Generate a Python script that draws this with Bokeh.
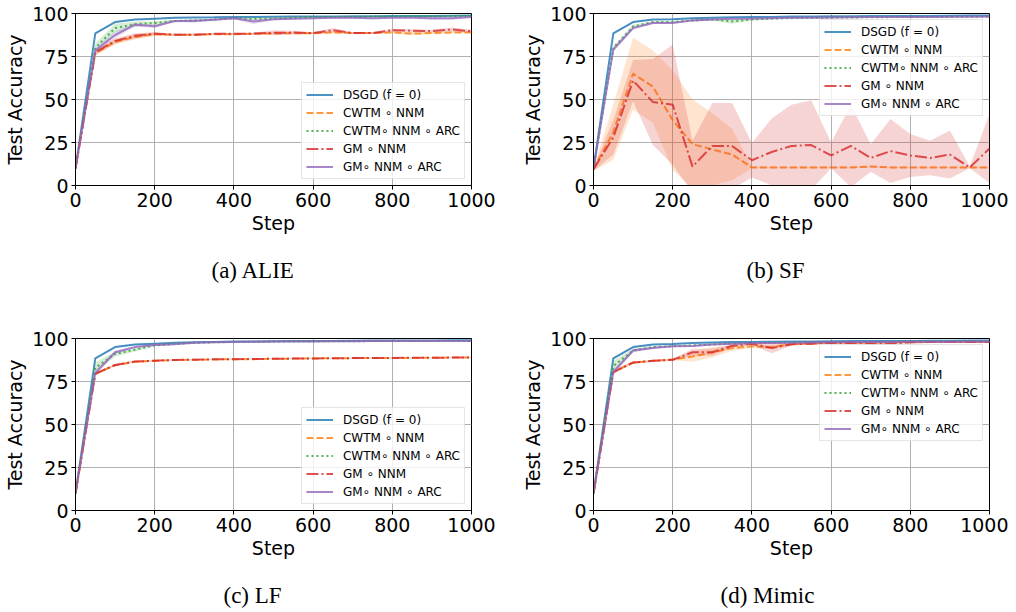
from bokeh.plotting import figure
from bokeh.layouts import column, row
from bokeh.models import Legend, LegendItem, Title, FixedTicker, Range1d
from bokeh.embed import file_html
from bokeh.resources import INLINE

# ---------------- data ----------------
STEPS = [0, 50, 100, 150, 200, 250, 300, 350, 400, 450, 500,
         550, 600, 650, 700, 750, 800, 850, 900, 950, 1000]
X_TICKS = [0, 200, 400, 600, 800, 1000]
Y_TICKS = [0, 25, 50, 75, 100]

LABELS = ["DSGD (f = 0)", "CWTM \u2218 NNM", "CWTM\u2218 NNM \u2218 ARC",
          "GM \u2218 NNM", "GM\u2218 NNM \u2218 ARC"]
COLORS = ["#1f77b4", "#ff7f0e", "#2ca02c", "#d62728", "#9467bd"]
DASHES = ["solid", "7 3", "2 3", "12 3 2 3", "solid"]
CAPTIONS = ["(a) ALIE", "(b) SF", "(c) LF", "(d) Mimic"]

# (a) ALIE
ALIE_DSGD = [10, 88.5, 95, 96.5, 97, 97.5, 97.7, 97.8, 98, 98, 98.1, 98.2, 98.3, 98.3, 98.4, 98.4, 98.5, 98.5, 98.6, 98.7, 98.8]
ALIE_CWTM = [10, 77, 83.5, 86.4, 88, 87.6, 87.6, 88, 88, 88.2, 88.4, 88.5, 88.5, 89, 88.6, 88.6, 89, 88.3, 88.6, 89, 89]
ALIE_CWTM_ARC = [10, 80, 91.5, 93.8, 94.5, 95.6, 96, 96.5, 97.2, 96.8, 97, 97.5, 98, 98, 98, 98.2, 98.3, 98.4, 98.4, 98.5, 98.6]
ALIE_GM = [10, 77.5, 84, 87, 88.3, 87.7, 87.7, 88.2, 88.2, 88.3, 88.8, 88.9, 88.6, 90.3, 88.6, 88.6, 90.3, 90, 89.8, 90.7, 89.7]
ALIE_GM_ARC = [10, 78.5, 87.5, 93.5, 92.6, 95.6, 95.6, 96.4, 97.2, 95.3, 96.6, 97, 97.2, 97.5, 97.5, 97.3, 97.6, 97.6, 97.2, 97.2, 98]
ALIE_DSGD_STD = [0.3, 0.5, 0.4, 0.3, 0.3, 0.2, 0.2, 0.2, 0.2, 0.2, 0.2, 0.2, 0.2, 0.2, 0.2, 0.2, 0.2, 0.2, 0.2, 0.2, 0.2]
ALIE_CWTM_STD = [0.5, 1.5, 1.5, 1.5, 1, 0.5, 0.5, 0.5, 0.5, 0.5, 0.5, 0.5, 0.5, 0.5, 0.5, 0.5, 0.5, 1, 0.5, 0.5, 0.5]
ALIE_CWTM_ARC_STD = [0.5, 2.5, 2.5, 1.5, 1, 0.8, 0.5, 0.5, 0.5, 0.5, 0.5, 0.5, 0.3, 0.3, 0.3, 0.3, 0.3, 0.3, 0.3, 0.3, 0.3]
ALIE_GM_STD = [0.5, 1.5, 1.5, 1.5, 1, 0.5, 0.5, 0.5, 0.5, 0.5, 1.5, 1, 0.5, 1.2, 0.5, 0.5, 0.8, 0.8, 0.8, 1.2, 0.8]
ALIE_GM_ARC_STD = [0.5, 1.5, 2, 1, 1, 0.5, 1, 0.5, 0.5, 1.5, 0.5, 0.5, 0.5, 0.5, 0.5, 0.8, 0.5, 0.5, 1, 1, 0.5]

# (b) SF
SF_DSGD = [10, 88.5, 95, 96.5, 96.7, 97.3, 97.6, 97.8, 98, 98, 98.2, 98.3, 98.4, 98.4, 98.5, 98.5, 98.6, 98.6, 98.7, 98.8, 98.8]
SF_CWTM = [9.5, 31, 65, 57.5, 38, 24, 21, 18, 10.5, 10.5, 10.5, 10.5, 10.5, 10.5, 11, 10.5, 10.5, 10.5, 10.5, 10.5, 10.5]
SF_CWTM_ARC = [10, 80, 92.5, 95, 95, 96, 96.5, 95.5, 96.5, 97, 97.3, 97.5, 97.6, 97.7, 97.8, 97.9, 98, 98, 98, 98.1, 98.1]
SF_GM = [9.5, 28, 61, 48.5, 47, 11, 23, 23, 14.7, 19.5, 23, 23.5, 17.5, 23, 16, 20, 17.5, 16, 18, 10.5, 21.5]
SF_GM_ARC = [10, 79, 91.5, 94.5, 94.5, 96, 96.5, 97, 97, 97.3, 97.5, 97.6, 97.7, 97.8, 97.9, 98, 98, 98, 98.1, 98.1, 98.2]
SF_DSGD_STD = [0.3, 0.5, 0.4, 0.3, 0.3, 0.2, 0.2, 0.2, 0.2, 0.2, 0.2, 0.2, 0.2, 0.2, 0.2, 0.2, 0.2, 0.2, 0.2, 0.2, 0.2]
SF_CWTM_STD = [1, 16, 21, 21, 29, 26, 21, 15, 0.5, 0.5, 0.5, 0.5, 0.5, 0.5, 0.5, 0.5, 0.5, 0.5, 0.5, 0.5, 0.5]
SF_CWTM_ARC_STD = [0.5, 1, 1, 0.5, 0.5, 0.5, 0.5, 1.5, 0.5, 0.3, 0.3, 0.3, 0.3, 0.3, 0.3, 0.3, 0.3, 0.3, 0.3, 0.3, 0.3]
SF_GM_STD = [1, 10, 12, 25, 35, 15, 25, 25, 10, 19.5, 24, 26, 7.5, 24, 8, 18.6, 12.5, 10, 14, 0.5, 20]
SF_GM_ARC_STD = [0.5, 1.5, 1, 0.5, 0.5, 0.5, 0.5, 0.3, 0.3, 0.3, 0.3, 0.3, 0.3, 0.3, 0.3, 0.3, 0.3, 0.3, 0.3, 0.3, 0.3]

# (c) LF
LF_DSGD = [10, 88.5, 95, 96.5, 97, 97.5, 97.8, 98, 98.2, 98.3, 98.4, 98.5, 98.6, 98.6, 98.7, 98.8, 98.8, 98.9, 98.9, 99, 99]
LF_CWTM = [10, 79.5, 84.5, 86.5, 87, 87.5, 87.6, 87.8, 88, 88, 88.2, 88.3, 88.4, 88.5, 88.6, 88.6, 88.7, 88.7, 88.8, 88.9, 89]
LF_CWTM_ARC = [10, 83, 91, 93.5, 96, 96.8, 97.5, 97.8, 98, 98.1, 98.2, 98.3, 98.3, 98.4, 98.4, 98.5, 98.5, 98.5, 98.6, 98.6, 98.6]
LF_GM = [10, 79.5, 84.6, 86.6, 87.1, 87.5, 87.7, 87.9, 88, 88.1, 88.2, 88.3, 88.4, 88.5, 88.6, 88.6, 88.7, 88.8, 88.8, 88.9, 89]
LF_GM_ARC = [10, 80, 92, 95, 96.2, 96.6, 97.5, 97.8, 98, 98.1, 98.2, 98.3, 98.3, 98.4, 98.4, 98.5, 98.5, 98.5, 98.6, 98.6, 98.6]
LF_DSGD_STD = [0.3, 0.5, 0.4, 0.3, 0.3, 0.2, 0.2, 0.2, 0.2, 0.2, 0.2, 0.2, 0.2, 0.2, 0.2, 0.2, 0.2, 0.2, 0.2, 0.2, 0.2]
LF_CWTM_STD = [0.5, 0.8, 0.6, 0.4, 0.3, 0.3, 0.3, 0.2, 0.2, 0.2, 0.2, 0.2, 0.2, 0.2, 0.2, 0.2, 0.2, 0.2, 0.2, 0.2, 0.2]
LF_CWTM_ARC_STD = [0.5, 3, 1.5, 1, 0.5, 0.4, 0.3, 0.2, 0.2, 0.2, 0.2, 0.2, 0.2, 0.2, 0.2, 0.2, 0.2, 0.2, 0.2, 0.2, 0.2]
LF_GM_STD = [0.5, 0.8, 0.6, 0.4, 0.3, 0.3, 0.3, 0.2, 0.2, 0.2, 0.2, 0.2, 0.2, 0.2, 0.2, 0.2, 0.2, 0.2, 0.2, 0.2, 0.2]
LF_GM_ARC_STD = [0.5, 1.5, 1, 0.5, 0.4, 0.3, 0.3, 0.2, 0.2, 0.2, 0.2, 0.2, 0.2, 0.2, 0.2, 0.2, 0.2, 0.2, 0.2, 0.2, 0.2]

# (d) Mimic
MIMIC_DSGD = [10, 88.5, 95, 96.5, 96.8, 97.4, 97.7, 97.9, 98, 98.1, 98.2, 98.3, 98.4, 98.5, 98.5, 98.6, 98.6, 98.7, 98.7, 98.8, 98.8]
MIMIC_CWTM = [10, 80.5, 86, 87, 87.8, 89.5, 92, 94.4, 95.5, 95, 96.7, 97, 97.5, 97.5, 97.6, 97.7, 97.8, 97.9, 98, 98, 98]
MIMIC_CWTM_ARC = [10, 84, 93, 95, 95.5, 96, 96.5, 97, 97.3, 97.5, 97.6, 97.7, 97.8, 97.9, 98, 98, 98.1, 98.1, 98.2, 98.2, 98.2]
MIMIC_GM = [10, 80.5, 86, 87, 87.6, 92, 92, 95.7, 97, 94.4, 96.7, 97, 97.5, 97.3, 97, 97, 97.8, 98, 98, 98, 98]
MIMIC_GM_ARC = [10, 80.5, 93, 94.5, 95.5, 95.6, 96.5, 97, 97.3, 97.4, 97.5, 97.7, 97.8, 97.9, 98, 98, 98.1, 98.1, 98.1, 98.2, 98.2]
MIMIC_DSGD_STD = [0.3, 0.5, 0.4, 0.3, 0.3, 0.2, 0.2, 0.2, 0.2, 0.2, 0.2, 0.2, 0.2, 0.2, 0.2, 0.2, 0.2, 0.2, 0.2, 0.2, 0.2]
MIMIC_CWTM_STD = [0.5, 1, 0.6, 0.5, 0.5, 3, 3, 1.5, 1, 1, 0.5, 0.5, 0.4, 0.4, 0.3, 0.3, 0.3, 0.3, 0.3, 0.3, 0.3]
MIMIC_CWTM_ARC_STD = [0.5, 3, 1, 0.5, 0.5, 0.4, 0.4, 0.3, 0.3, 0.3, 0.3, 0.3, 0.3, 0.3, 0.3, 0.3, 0.3, 0.3, 0.3, 0.3, 0.3]
MIMIC_GM_STD = [0.5, 1, 0.6, 0.5, 0.5, 2, 2, 1, 0.8, 3, 0.8, 0.5, 0.4, 0.4, 0.4, 0.4, 0.3, 0.3, 0.3, 0.3, 0.3]
MIMIC_GM_ARC_STD = [0.5, 1.5, 1, 0.5, 0.4, 0.4, 0.3, 0.3, 0.3, 0.3, 0.3, 0.3, 0.3, 0.3, 0.3, 0.3, 0.3, 0.3, 0.3, 0.3, 0.3]

PANELS = [
    ([ALIE_DSGD, ALIE_CWTM, ALIE_CWTM_ARC, ALIE_GM, ALIE_GM_ARC],
     [ALIE_DSGD_STD, ALIE_CWTM_STD, ALIE_CWTM_ARC_STD, ALIE_GM_STD, ALIE_GM_ARC_STD], "bottom_right"),
    ([SF_DSGD, SF_CWTM, SF_CWTM_ARC, SF_GM, SF_GM_ARC],
     [SF_DSGD_STD, SF_CWTM_STD, SF_CWTM_ARC_STD, SF_GM_STD, SF_GM_ARC_STD], "top_right"),
    ([LF_DSGD, LF_CWTM, LF_CWTM_ARC, LF_GM, LF_GM_ARC],
     [LF_DSGD_STD, LF_CWTM_STD, LF_CWTM_ARC_STD, LF_GM_STD, LF_GM_ARC_STD], "bottom_right"),
    ([MIMIC_DSGD, MIMIC_CWTM, MIMIC_CWTM_ARC, MIMIC_GM, MIMIC_GM_ARC],
     [MIMIC_DSGD_STD, MIMIC_CWTM_STD, MIMIC_CWTM_ARC_STD, MIMIC_GM_STD, MIMIC_GM_ARC_STD], "top_right"),
]

FONT = "DejaVu Sans"
CAPTION_OFFSETS = [136, 153, 148, 127]


def make_panel(idx, width, height, b_right, b_top, b_bottom):
    series, stds, loc = PANELS[idx]
    p = figure(width=width, height=height,
               x_range=Range1d(0, 1000), y_range=Range1d(0, 100),
               output_backend="svg", toolbar_location=None,
               min_border_left=75, min_border_right=b_right,
               min_border_top=b_top, min_border_bottom=b_bottom)
    p.background_fill_color = "white"
    p.border_fill_color = "white"
    p.outline_line_color = "black"
    p.outline_line_width = 1
    p.outline_line_alpha = 1

    p.xaxis.ticker = FixedTicker(ticks=X_TICKS)
    p.yaxis.ticker = FixedTicker(ticks=Y_TICKS)
    for ax in (p.xaxis, p.yaxis):
        ax.axis_line_color = "black"
        ax.major_tick_line_color = "black"
        ax.major_tick_out = 4
        ax.major_tick_in = 0
        ax.minor_tick_line_color = None
        ax.major_label_text_font = FONT
        ax.major_label_text_font_size = "19px"
        ax.major_label_text_color = "black"
        ax.major_label_standoff = 3
        ax.axis_label_text_font = FONT
        ax.axis_label_text_font_size = "19px"
        ax.axis_label_text_font_style = "normal"
        ax.axis_label_text_color = "black"
    p.xaxis.axis_label = "Step"
    p.yaxis.axis_label = "Test Accuracy"
    p.xaxis.axis_label_standoff = 2
    p.yaxis.axis_label_standoff = 3

    p.xgrid.ticker = FixedTicker(ticks=X_TICKS)
    p.ygrid.ticker = FixedTicker(ticks=Y_TICKS)
    for g in (p.xgrid, p.ygrid):
        g.grid_line_color = "#b0b0b0"
        g.grid_line_width = 1
        g.grid_line_alpha = 1

    items = []
    for ys, sd, lab, col, dash in zip(series, stds, LABELS, COLORS, DASHES):
        lo = [y - s for y, s in zip(ys, sd)]
        hi = [y + s for y, s in zip(ys, sd)]
        p.varea(x=STEPS, y1=lo, y2=hi, fill_color=col, fill_alpha=0.2)
        r = p.line(STEPS, ys, line_color=col, line_width=2, line_alpha=0.8,
                   line_dash=dash)
        items.append(LegendItem(label=lab, renderers=[r]))

    legend = Legend(items=items, location=loc)
    legend.margin = 6
    legend.padding = 4
    legend.spacing = 3
    legend.glyph_width = 27
    legend.glyph_height = 15
    legend.label_height = 15
    legend.label_standoff = 10
    legend.label_text_font = FONT
    legend.label_text_font_size = "12px"
    legend.label_text_color = "black"
    legend.border_line_color = "#cccccc"
    legend.border_line_width = 1
    legend.background_fill_color = "white"
    legend.background_fill_alpha = 0.8
    p.add_layout(legend)

    # blank spacer between the axis and the caption
    spacer = Title(text=" ", text_font_size="2px", standoff=15)
    p.add_layout(spacer, "below")
    cap = Title(text=CAPTIONS[idx], align="left", offset=CAPTION_OFFSETS[idx],
                text_font="Liberation Serif", text_font_size="23px",
                text_font_style="normal", text_color="black", standoff=0)
    p.add_layout(cap, "below")
    return p


pa = make_panel(0, 518, 325, 47, 13, 140)
pb = make_panel(1, 490, 325, 19, 13, 140)
pc = make_panel(2, 518, 285, 47, 13, 100)
pd = make_panel(3, 490, 285, 19, 13, 100)

layout = column(row(pa, pb), row(pc, pd))

open("out.html", "w").write(file_html(layout, INLINE))
